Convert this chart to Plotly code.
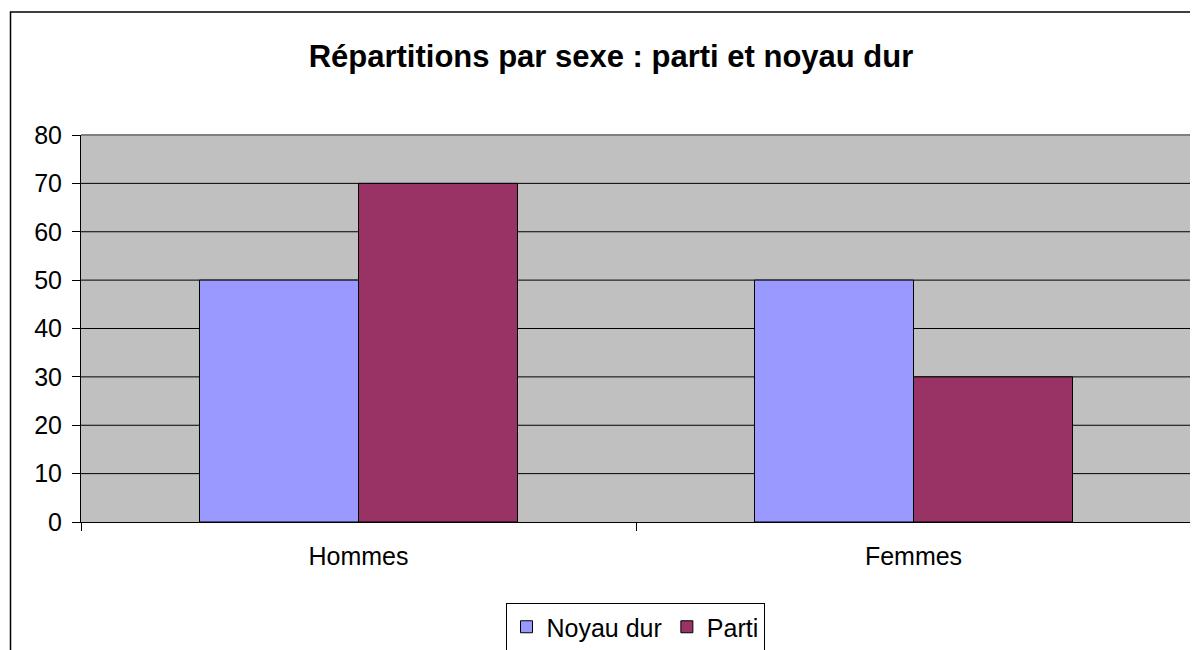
import plotly.graph_objects as go

categories = ["Hommes", "Femmes"]
noyau_dur = [50, 50]
parti = [70, 30]
y_ticks = [0, 10, 20, 30, 40, 50, 60, 70, 80]

OFF = 8  # page body margin applied by the browser
W, H = 1198 - OFF, 650 - OFF
# plot-area edges in page pixels
L, R, T, B = 81, 1191, 135, 522
pw, ph = R - L, B - T

def px(x):
    return (x - L) / pw

def py(y):
    return (B - y) / ph

FONT = "Liberation Sans, Arial, sans-serif"

fig = go.Figure()
fig.add_trace(go.Bar(x=categories, y=noyau_dur, name="Noyau dur",
                     marker=dict(color="#9999FF", line=dict(color="black", width=1))))
fig.add_trace(go.Bar(x=categories, y=parti, name="Parti",
                     marker=dict(color="#993366", line=dict(color="black", width=1))))

shapes = []
for t in y_ticks[1:-1]:
    shapes.append(dict(type="line", xref="paper", yref="y", x0=0, x1=1, y0=t, y1=t,
                       line=dict(color="black", width=1), layer="below"))
shapes.append(dict(type="line", xref="paper", yref="paper", x0=0, x1=1, y0=1, y1=1,
                   line=dict(color="#808080", width=2)))
shapes.append(dict(type="line", xref="paper", yref="paper", x0=1, x1=1, y0=0, y1=1,
                   line=dict(color="#808080", width=2)))
shapes.append(dict(type="rect", xref="paper", yref="paper",
                   x0=px(10.5), x1=px(1197.5), y0=py(700), y1=py(12),
                   line=dict(color="black", width=1.5), fillcolor="rgba(0,0,0,0)"))

fig.update_layout(
    width=W, height=H,
    margin=dict(l=L - OFF, r=W - (R - OFF), t=T - OFF, b=H - (B - OFF), pad=0,
                autoexpand=False),
    paper_bgcolor="white",
    plot_bgcolor="#C0C0C0",
    font=dict(family=FONT, size=25, color="black"),
    title=dict(text="<b>Répartitions par sexe : parti et noyau dur</b>",
               font=dict(family=FONT, size=31, color="black"),
               x=px(611), xanchor="center", xref="paper",
               y=1 - (56 - OFF) / H, yanchor="middle"),
    barmode="group",
    bargap=0.427,
    bargroupgap=0,
    showlegend=True,
    legend=dict(orientation="h", x=px(635), xanchor="center",
                yref="container", y=1 - (603 - OFF) / H, yanchor="top",
                bordercolor="black", borderwidth=1, bgcolor="white",
                font=dict(family=FONT, size=25), itemwidth=30, tracegroupgap=0),
    shapes=shapes,
    xaxis=dict(type="category", tickson="boundaries", ticks="outside", ticklen=8,
               tickcolor="black", showline=True, linecolor="black", linewidth=1,
               showgrid=False, tickfont=dict(size=25), zeroline=False,
               ticklabelstandoff=12, range=[-0.5, 1.5], automargin=False),
    yaxis=dict(range=[0, 80], tickvals=y_ticks, ticks="outside", ticklen=8,
               tickcolor="black", showline=True, linecolor="black", linewidth=1,
               showgrid=False, zeroline=False, tickfont=dict(size=25),
               ticklabelstandoff=5, automargin=False),
)

fig.write_html("out.html")
